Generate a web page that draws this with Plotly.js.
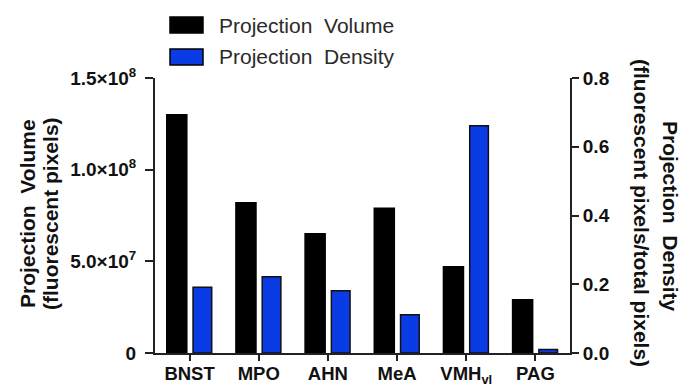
<!DOCTYPE html>
<html>
<head>
<meta charset="utf-8">
<script src="https://cdn.plot.ly/plotly-3.0.1.min.js"></script>
<style>
  html, body { margin: 0; padding: 0; background: #fff; }
  #chart { width: 688px; height: 385px; }
</style>
</head>
<body>
<div id="chart"></div>
<script>
// Brain regions on the x axis
const regions = ['BNST', 'MPO', 'AHN', 'MeA', 'VMH<sub>vl</sub>', 'PAG'];

// Projection volume (fluorescent pixels), left axis
const projectionVolume = [1.30e8, 0.82e8, 0.65e8, 0.79e8, 0.47e8, 0.29e8];

// Projection density (fluorescent pixels / total pixels), right axis
const projectionDensity = [0.191, 0.222, 0.181, 0.111, 0.661, 0.010];

const seriesNames = ['Projection  Volume', 'Projection  Density'];
const seriesColors = ['#000000', '#0a3ce6'];

// Tick values and labels for both axes
const volumeTicks = [0, 5e7, 1e8, 1.5e8];
const volumeTickText = ['0', '5.0×10<sup>7</sup>', '1.0×10<sup>8</sup>', '1.5×10<sup>8</sup>'];
const densityTicks = [0, 0.2, 0.4, 0.6, 0.8];
const densityTickText = ['0.0', '0.2', '0.4', '0.6', '0.8'];

// Axis titles, one entry per line
const volumeTitleLines = ['Projection  Volume', '(fluorescent pixels)'];
const densityTitleLines = ['Projection  Density', '(fluorescent pixels/total pixels)'];

const FONT = 'Liberation Sans, Arial, Helvetica, sans-serif';
const x = regions.map((_, i) => i);

// plot area in pixels: x 155..570, y 78..353
const px = v => (v - 155) / 415;
const py = v => (353 - v) / 275;

const traces = [
  {
    type: 'bar', name: seriesNames[0], x: x, y: projectionVolume,
    yaxis: 'y', width: 0.29, offset: -0.33,
    marker: { color: seriesColors[0], line: { color: '#000', width: 1.5 } },
    showlegend: false, hoverinfo: 'y'
  },
  {
    type: 'bar', name: seriesNames[1], x: x, y: projectionDensity,
    yaxis: 'y2', width: 0.27, offset: 0.05,
    marker: { color: seriesColors[1], line: { color: '#111', width: 1.5 } },
    showlegend: false, hoverinfo: 'y'
  }
];

// Legend at the top: swatch rectangles plus labels
const legendShapes = seriesColors.map((c, i) => ({
  type: 'rect', xref: 'paper', yref: 'paper',
  x0: px(170), x1: px(203),
  y0: py(33 + i * 32), y1: py(17 + i * 32),
  fillcolor: c, line: { color: '#000', width: 1.5 }
}));
const legendLabels = seriesNames.map((n, i) => ({
  xref: 'paper', yref: 'paper',
  x: px(217), y: py(25 + i * 32),
  xanchor: 'left', yanchor: 'middle', showarrow: false,
  text: n, font: { family: FONT, size: 21, color: '#2a2a2a' }
}));

const titleFont = { family: FONT, size: 21, color: '#111' };
const axisTitles = [
  ...volumeTitleLines.map((t, i) => ({
    xref: 'paper', yref: 'paper', x: px(27 + i * 23), y: py(214),
    xanchor: 'center', yanchor: 'middle', showarrow: false, textangle: -90,
    text: '<b>' + t + '</b>', font: titleFont
  })),
  ...densityTitleLines.map((t, i) => ({
    xref: 'paper', yref: 'paper', x: px(671 - i * 29), y: py(i === 0 ? 216 : 213),
    xanchor: 'center', yanchor: 'middle', showarrow: false, textangle: 90,
    text: '<b>' + t + '</b>', font: titleFont
  }))
];

const axisCommon = {
  showline: true, linecolor: '#222', linewidth: 2, ticks: 'outside',
  tickwidth: 2, tickcolor: '#222', showgrid: false, zeroline: false, fixedrange: true
};

const layout = {
  width: 688, height: 385,
  margin: { l: 155, r: 118, t: 78, b: 32, pad: 0 },
  paper_bgcolor: '#fff', plot_bgcolor: '#fff',
  showlegend: false,
  xaxis: Object.assign({}, axisCommon, {
    range: [-0.5, 5.5], tickvals: x, ticktext: regions.map(r => '<b>' + r + '</b>'),
    ticklen: 6, ticklabelstandoff: -3, tickfont: { family: FONT, size: 18.5, color: '#111' }
  }),
  yaxis: Object.assign({}, axisCommon, {
    range: [0, 1.5e8], tickvals: volumeTicks, ticktext: volumeTickText.map(t => '<b>' + t + '</b>'),
    ticklen: 8, ticklabelstandoff: 5, tickfont: { family: FONT, size: 19, color: '#111' }
  }),
  yaxis2: Object.assign({}, axisCommon, {
    range: [0, 0.8], overlaying: 'y', side: 'right',
    tickvals: densityTicks, ticktext: densityTickText.map(t => '<b>' + t + '</b>'),
    ticklen: 7, tickfont: { family: FONT, size: 19, color: '#111' }
  }),
  shapes: legendShapes,
  annotations: legendLabels.concat(axisTitles)
};

Plotly.newPlot('chart', traces, layout, { displayModeBar: false, staticPlot: true });
</script>
</body>
</html>
